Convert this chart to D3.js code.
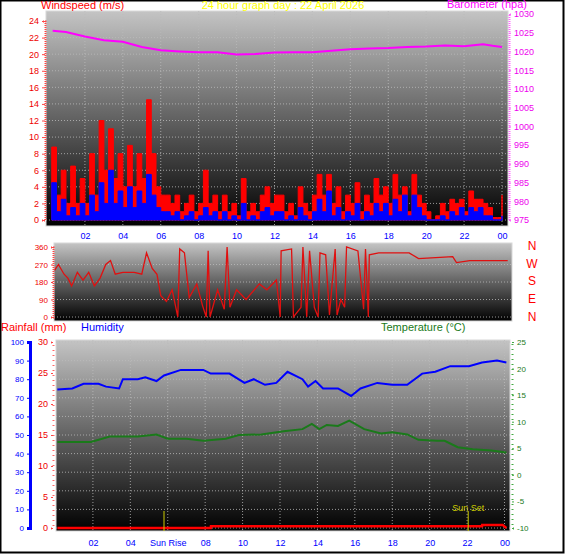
<!DOCTYPE html>
<html><head><meta charset="utf-8">
<script src="https://cdn.jsdelivr.net/npm/d3@7"></script>
<style>body{margin:0;background:#fff}text{font-family:"Liberation Sans",Arial,sans-serif}</style>
</head><body><div id="chart"></div>
<script>
// wind speed, 15-minute slots from 00:15
var gust = [8.8,3,6,2, 6.5,2,5,2, 8,3,12,6, 11,5,8,4, 9,4,8,5, 14.5,8,4,3,
            3,2,3,1, 2,3,1,2, 6,2,3,1, 3,1,2,0.5, 5,1,2,1, 3,4,2,3,
            3,1,2,0.5, 4,2,1,3, 5.5,3,5.5,2, 4,1,3,2, 4.5,1,3,2, 5,3,4,2,
            5.5,3,4,1, 5.5,3,2,1, 0,0.5,2,1, 2.5,2,2.5,1, 3.5,2.5,2.5,2, 1.5,0.3,0.3,3];
var avgWind = [4.5,1,2.5,0.5, 1.5,0.5,2,0.5, 3,1,4.5,2, 6,2,3.5,1.5, 4,1.5,3.5,2, 5.5,3,1.5,1,
            1,0.5,1,0, 0.5,1,0,0.5, 1.5,0.5,1,0, 1,0,0.5,0, 2,0,0.5,0, 1,1.5,0.5,1,
            1,0,0.5,0, 1.5,0.5,0,1, 2.5,1,3.5,0.5, 1.5,0,1,0.5, 2,0,1,0.5, 2,1,2,0.5,
            2.5,1,3,0.5, 3,1.5,0.5,0, 0,0,0.5,0, 1,0.5,1.5,0.5, 1.5,1,1.5,0.5, 0.5,0,0,0.5];
var baroHours = [0.3,1,2,3,4,5,6,7,8,9,10,11,12,13,14,15,16,17,18,19,20,21,22,23,23.5,24];
var baro = [1025.5,1025.2,1024,1023,1022.6,1021.2,1020.3,1020,1019.8,1019.8,1019.2,1019.3,1019.7,1019.8,1019.8,1020.2,1020.6,1020.8,1020.9,1021.2,1021.3,1021.6,1021.4,1021.9,1021.5,1021.2];

var dirHours = [0.4,0.6,0.9,1.1,1.3,1.6,1.9,2.2,2.5,2.8,3.1,3.35,3.6,4.0,4.6,5.0,5.25,5.55,5.8,6.0,6.3,6.6,6.9,7.0,7.25,7.5,7.9,8.2,8.4,8.5,8.6,9.0,9.35,9.5,9.65,10.0,10.5,11.2,11.6,12.1,12.3,12.35,12.9,13.0,13.4,13.5,13.7,13.85,14.1,14.3,14.4,14.7,14.9,15.2,15.3,15.5,15.7,15.8,16.4,16.7,16.8,16.95,17.0,17.5,18.5,19.1,19.6,21.4,21.6,22.3,23.0,24.3];
var dirValues = [240,270,220,200,160,230,190,230,160,200,270,290,220,230,230,220,330,250,220,110,80,140,0,350,330,100,170,60,0,340,0,140,40,360,50,140,90,170,140,190,0,340,350,0,50,360,0,340,50,0,330,320,10,350,10,90,50,360,340,40,350,0,320,330,330,330,300,310,280,290,290,290];

var humHours = [0.1,0.9,1.5,2.3,2.7,3.4,3.6,4.4,4.8,5.4,5.8,6.7,7.9,8.3,9.3,10.1,10.6,11.2,11.8,12.4,13.2,13.5,13.9,14.3,15.1,15.8,16.3,17.2,18.0,18.8,19.6,20.3,21.1,22.1,22.8,23.6,24.1];
var humidity = [74.5,75,77.5,77.5,76,75,80,80,81,79,82,85,85,83,83,78,80,77,78,84,80,76,79,75,75,71,75,78,77,77,83,84,87,87,89,90,89];
var tempHours = [0.1,1.9,2.9,4.4,5.4,6.0,7.0,7.9,9.1,9.8,11.0,12.2,13.2,13.7,14.1,14.5,15.1,15.7,16.5,17.4,18.0,18.8,19.4,20.4,20.8,21.5,22.3,23.3,24.1];
var temperature = [6.2,6.2,7.2,7.2,7.6,6.8,6.8,6.4,6.8,7.5,7.6,8.2,8.6,9.6,8.6,9.4,9.2,10.2,8.6,7.8,8,7.6,6.6,6.4,6.4,5.2,4.8,4.6,4.2];
var rainHours = [0.1,8.3,8.31,22.8,22.81,23.9,24.1];
var rain = [0,0,0.3,0.3,0.5,0.5,0];
var sunRise = 5.8, sunSet = 22.06;
var hourTicks = [2,4,6,8,10,12,14,16,18,20,22,24];

var W = 566, H = 555;
var svg = d3.select("#chart").append("svg").attr("width", W).attr("height", H);
svg.append("rect").attr("x",0.5).attr("y",0.5).attr("width",W-3).attr("height",H-3)
   .attr("fill","#fff").attr("stroke","#000").attr("stroke-width",2);

var defs = svg.append("defs");
var grad = defs.append("linearGradient").attr("id","bg").attr("x1",0).attr("y1",0).attr("x2",0).attr("y2",1);
grad.append("stop").attr("offset","0%").attr("stop-color","#c4c4c4");
grad.append("stop").attr("offset","100%").attr("stop-color","#000");

function hh(h) { var v = h % 24; return (v < 10 ? "0" : "") + v; }
function plain(v) { return String(v); }

function panel(x0, x1, y0, y1) {
  svg.append("rect").attr("x",x0).attr("y",y0).attr("width",x1-x0).attr("height",y1-y0)
     .attr("fill","url(#bg)").attr("stroke","#d8d8d8");
  return svg.append("g").attr("stroke","#bbb").attr("stroke-dasharray","1,2").attr("stroke-width",0.8);
}

// ---- panel 1: wind speed & barometer
var x1 = d3.scaleLinear().domain([0,24]).range([47,502]);
var yW = d3.scaleLinear().domain([0,24]).range([220,21]);
var yB = d3.scaleLinear().domain([975,1030]).range([220,14]);
var g1 = panel(46, 508, 11, 226);
hourTicks.forEach(function(h){ g1.append("line").attr("x1",x1(h)).attr("x2",x1(h)).attr("y1",11).attr("y2",226); });
d3.range(0,26,2).forEach(function(v){ g1.append("line").attr("x1",46).attr("x2",508).attr("y1",yW(v)).attr("y2",yW(v)); });

var slot = d3.range(gust.length).map(function(i){ return 0.25 + i*0.25; });
var areaW = function(arr){ return d3.area().curve(d3.curveStepAfter)
  .x(function(d,i){ return x1(slot[i]); }).y0(yW(0)).y1(function(d){ return yW(d); })(arr); };
svg.append("path").attr("d", areaW(gust)).attr("fill","#f00").attr("stroke","#f00").attr("stroke-width",1);
svg.append("path").attr("d", areaW(avgWind)).attr("fill","#00f").attr("stroke","#00f").attr("stroke-width",1);
svg.append("path").datum(baroHours).attr("fill","none").attr("stroke","#f0f").attr("stroke-width",2)
   .attr("d", d3.line().x(function(d){ return x1(d); }).y(function(d,i){ return yB(baro[i]); }));

svg.append("g").attr("transform","translate(45,0)")
   .call(d3.axisLeft(yW).tickValues(d3.range(0,26,2)).tickSize(3))
   .call(function(a){ a.select(".domain").attr("stroke","#f44").attr("stroke-dasharray","1,1").attr("stroke-width",2);
     a.selectAll("line").attr("stroke","#f44"); a.selectAll("text").attr("fill","#e00").attr("font-size",9); });
svg.append("g").attr("transform","translate(509,0)")
   .call(d3.axisRight(yB).tickValues(d3.range(975,1031,5)).tickFormat(plain).tickSize(2))
   .call(function(a){ a.select(".domain").attr("stroke","#f6f").attr("stroke-dasharray","1,1").attr("stroke-width",2);
     a.selectAll("line").attr("stroke","#f6f"); a.selectAll("text").attr("fill","#e0e").attr("font-size",9); });
svg.append("g").attr("transform","translate(0,230)")
   .call(d3.axisBottom(x1).tickValues(hourTicks).tickFormat(hh).tickSize(0))
   .call(function(a){ a.select(".domain").remove(); a.selectAll("text").attr("fill","#00f").attr("font-size",9); });

svg.append("text").attr("x",41).attr("y",9).attr("fill","#f00").attr("font-size",11).text("Windspeed (m/s)");
svg.append("text").attr("x",283).attr("y",9).attr("text-anchor","middle").attr("fill","#ff0").attr("font-size",11).text("24 hour graph day : 22 April 2026");
svg.append("text").attr("x",527).attr("y",8).attr("text-anchor","end").attr("fill","#f0f").attr("font-size",11).text("Barometer (hpa)");

// ---- panel 2: wind direction
var yD = d3.scaleLinear().domain([0,360]).range([317,247]);
var g2 = panel(54, 512, 243, 321);
d3.range(0,361,90).forEach(function(v){ g2.append("line").attr("x1",54).attr("x2",512).attr("y1",yD(v)).attr("y2",yD(v)); });
svg.append("path").datum(dirHours).attr("fill","none").attr("stroke","#e01010").attr("stroke-width",1.3)
   .attr("d", d3.line().x(function(d){ return x1(d); }).y(function(d,i){ return yD(dirValues[i]); }));
svg.append("g").attr("transform","translate(53,0)")
   .call(d3.axisLeft(yD).tickValues([0,90,180,270,360]).tickSize(2))
   .call(function(a){ a.select(".domain").attr("stroke","#f44").attr("stroke-dasharray","1,1").attr("stroke-width",2);
     a.selectAll("line").attr("stroke","#f44"); a.selectAll("text").attr("fill","#e00").attr("font-size",8); });
["N","W","S","E","N"].forEach(function(c,i){
  svg.append("text").attr("x",532).attr("y",250 + i*17.7).attr("text-anchor","middle")
     .attr("fill","#f00").attr("font-size",12).text(c);
});

// ---- panel 3: rain, humidity, temperature
var x3 = d3.scaleLinear().domain([0,24]).range([55.5,504.5]);
var yR = d3.scaleLinear().domain([0,30]).range([528,342]);
var yH = d3.scaleLinear().domain([0,100]).range([528,342]);
var yT = d3.scaleLinear().domain([-10,25]).range([528,342]);
var g3 = panel(56, 510, 340, 531);
hourTicks.forEach(function(h){ g3.append("line").attr("x1",x3(h)).attr("x2",x3(h)).attr("y1",340).attr("y2",531); });
d3.range(0,101,10).forEach(function(v){ g3.append("line").attr("x1",56).attr("x2",510).attr("y1",yH(v)).attr("y2",yH(v)); });

svg.append("path").datum(humHours).attr("fill","none").attr("stroke","#00f").attr("stroke-width",2)
   .attr("d", d3.line().x(function(d){ return x3(d); }).y(function(d,i){ return yH(humidity[i]); }));
svg.append("path").datum(tempHours).attr("fill","none").attr("stroke","#1a7a1a").attr("stroke-width",2)
   .attr("d", d3.line().x(function(d){ return x3(d); }).y(function(d,i){ return yT(temperature[i]); }));
svg.append("path").datum(rainHours).attr("fill","none").attr("stroke","#f00").attr("stroke-width",2.5)
   .attr("d", d3.line().x(function(d){ return x3(d); }).y(function(d,i){ return yR(rain[i]); }));

[sunRise, sunSet].forEach(function(h){
  svg.append("line").attr("x1",x3(h)).attr("x2",x3(h)).attr("y1",511).attr("y2",531).attr("stroke","#cc0").attr("stroke-width",1);
});
svg.append("text").attr("x",x3(sunSet)).attr("y",511).attr("text-anchor","middle").attr("fill","#cc0").attr("font-size",9).text("Sun Set");

svg.append("g").attr("transform","translate(30,0)")
   .call(d3.axisLeft(yH).tickValues(d3.range(0,101,10)).tickSize(3))
   .call(function(a){ a.select(".domain").attr("stroke","#00f").attr("stroke-width",3);
     a.selectAll("line").attr("stroke","#00f"); a.selectAll("text").attr("fill","#00f").attr("font-size",8); });
svg.append("g").attr("transform","translate(53,0)")
   .call(d3.axisLeft(yR).tickValues(d3.range(0,31,5)).tickSize(2))
   .call(function(a){ a.select(".domain").attr("stroke","#f66").attr("stroke-dasharray","1,4").attr("stroke-width",2);
     a.selectAll("line").attr("stroke","#f44"); a.selectAll("text").attr("fill","#e00").attr("font-size",9); });
svg.append("g").attr("transform","translate(512,0)")
   .call(d3.axisRight(yT).tickValues(d3.range(-10,26,5)).tickFormat(plain).tickSize(2))
   .call(function(a){ a.select(".domain").attr("stroke","#4a4").attr("stroke-dasharray","1,4").attr("stroke-width",2);
     a.selectAll("line").attr("stroke","#4a4"); a.selectAll("text").attr("fill","#1a7a1a").attr("font-size",8); });
svg.append("g").attr("transform","translate(0,537)")
   .call(d3.axisBottom(x3).tickValues(hourTicks).tickFormat(function(h){ return h === 6 ? "Sun Rise" : hh(h); }).tickSize(0))
   .call(function(a){ a.select(".domain").remove(); a.selectAll("text").attr("fill","#00f").attr("font-size",9); });

svg.append("text").attr("x",1).attr("y",331).attr("fill","#f00").attr("font-size",11).text("Rainfall (mm)");
svg.append("text").attr("x",81).attr("y",331).attr("fill","#00f").attr("font-size",11).text("Humidity");
svg.append("text").attr("x",381).attr("y",331).attr("fill","#1a7a1a").attr("font-size",11).text("Temperature (°C)");
</script>
</body></html>
